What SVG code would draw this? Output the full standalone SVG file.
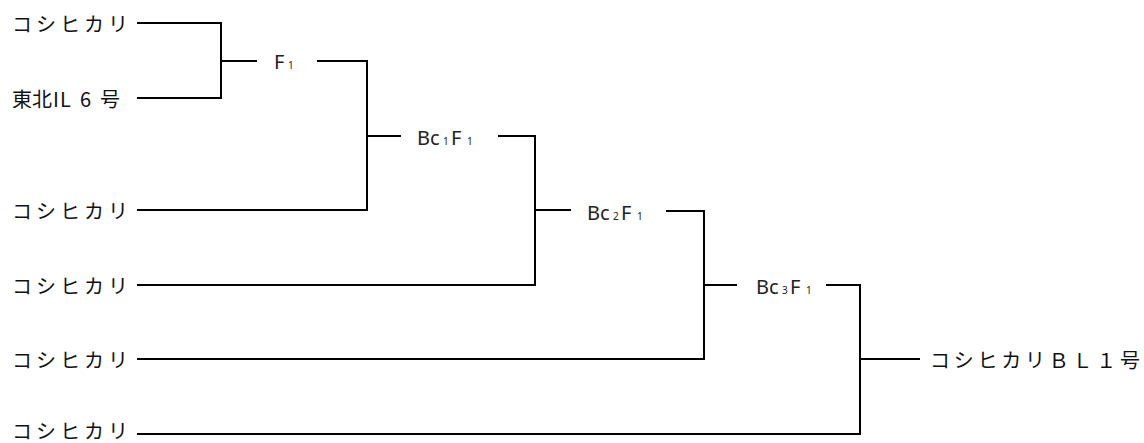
<svg xmlns="http://www.w3.org/2000/svg" width="1144" height="443" viewBox="0 0 1144 443">
<style>
.c{fill:none;stroke:#000;stroke-width:2}
.t{font-family:"Noto Sans CJK JP","Noto Sans",sans-serif;font-size:20px;fill:#111}
.g{font-family:"Noto Sans","Noto Sans CJK JP",sans-serif;font-size:20px;fill:#222}
.s{font-size:10px}
</style>
<rect width="1144" height="443" fill="#fff"/>
<g id="connectors">
<path class="c" d="M137 23H221V98H137M221 61H257"/>
<path class="c" d="M317 61H367V210H137M367 136H401"/>
<path class="c" d="M498 136H535V285H137M535 210H571"/>
<path class="c" d="M666 211H704V359H137M704 285H737"/>
<path class="c" d="M826 285H860V434H137M860 359H920"/>
</g>
<g id="p1"><text class="t" x="12" y="32" textLength="116" lengthAdjust="spacing">コシヒカリ</text></g>
<g id="p2"><text class="t" y="107"><tspan x="12">東北</tspan><tspan x="53">I</tspan><tspan x="60">L</tspan><tspan x="80">6</tspan><tspan x="100">号</tspan></text></g>
<g id="p3"><text class="t" x="12" y="219" textLength="116" lengthAdjust="spacing">コシヒカリ</text></g>
<g id="p4"><text class="t" x="12" y="294" textLength="116" lengthAdjust="spacing">コシヒカリ</text></g>
<g id="p5"><text class="t" x="12" y="368" textLength="116" lengthAdjust="spacing">コシヒカリ</text></g>
<g id="p6"><text class="t" x="12" y="439" textLength="116" lengthAdjust="spacing">コシヒカリ</text></g>
<g id="f1"><text class="g" y="69"><tspan x="274">F</tspan><tspan class="s" x="288">1</tspan></text></g>
<g id="bc1"><text class="g" y="145"><tspan x="417">Bc</tspan><tspan class="s" x="443">1</tspan><tspan x="451">F</tspan><tspan class="s" x="467">1</tspan></text></g>
<g id="bc2"><text class="g" y="220"><tspan x="587">Bc</tspan><tspan class="s" x="613">2</tspan><tspan x="621">F</tspan><tspan class="s" x="637">1</tspan></text></g>
<g id="bc3"><text class="g" y="294"><tspan x="756">Bc</tspan><tspan class="s" x="782">3</tspan><tspan x="790">F</tspan><tspan class="s" x="806">1</tspan></text></g>
<g id="result"><text class="t" x="930" y="368" textLength="210" lengthAdjust="spacing">コシヒカリＢＬ１号</text></g>
</svg>
